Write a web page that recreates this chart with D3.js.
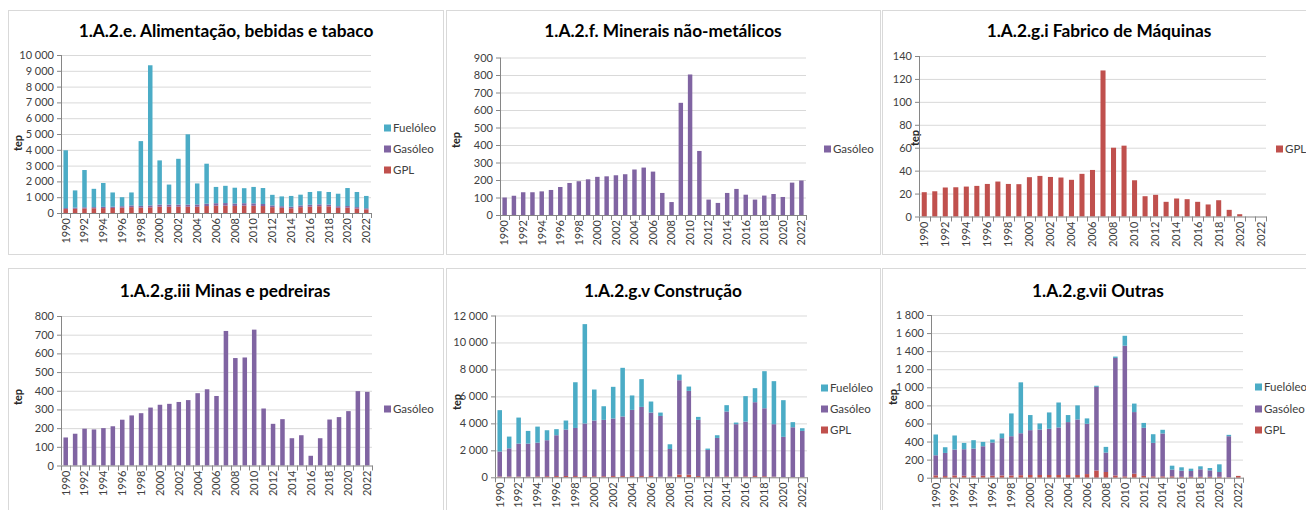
<!DOCTYPE html>
<html>
<head>
<meta charset="utf-8">
<script src="https://cdn.jsdelivr.net/npm/d3@7"></script>
<style>
  body { margin: 0; background: #fff; }
  svg { display: block; font-family: Lato, "Open Sans", sans-serif; }
  .title { font-size: 17.3px; font-weight: bold; fill: #000; }
  .tick text { font-size: 11px; fill: #404040; font-family: Lato, sans-serif; }
  .legend-label { font-size: 11.5px; fill: #404040; }
  .axis-title { font-size: 11px; font-weight: bold; fill: #262626; }
</style>
</head>
<body>
<svg id="chart"></svg>
<script>
// categories
const years = [1990, 1991, 1992, 1993, 1994, 1995, 1996, 1997, 1998, 1999, 2000, 2001,
  2002, 2003, 2004, 2005, 2006, 2007, 2008, 2009, 2010, 2011, 2012, 2013, 2014, 2015,
  2016, 2017, 2018, 2019, 2020, 2021, 2022];
const yearTickLabels = [1990, 1992, 1994, 1996, 1998, 2000, 2002, 2004, 2006, 2008,
  2010, 2012, 2014, 2016, 2018, 2020, 2022];

// 1.A.2.e. Alimentação, bebidas e tabaco (tep)
const alimGpl = [250, 270, 290, 300, 310, 320, 340, 370, 340, 360, 400, 400, 400, 400, 400, 440,
  470, 470, 450, 470, 460, 440, 370, 330, 300, 370, 400, 430, 420, 330, 340, 280, 230];
const alimGas = [60, 70, 70, 70, 80, 80, 90, 110, 110, 120, 130, 130, 130, 130, 140, 150,
  150, 160, 150, 150, 150, 130, 110, 100, 100, 110, 120, 120, 110, 100, 100, 90, 70];
const alimFuel = [3660, 1090, 2360, 1160, 1510, 900, 570, 820, 4100, 8870, 2800, 1270, 2900,
  4450, 1330, 2530, 1030, 1090, 1000, 950, 1040, 1010, 670, 620, 680, 680, 810, 830, 800,
  790, 1140, 960, 780];

// 1.A.2.f. Minerais não-metálicos
const mineraisGas = [100, 110, 130, 130, 135, 143, 160, 183, 193, 204, 218, 221, 227, 233, 260,
  271, 248, 126, 74, 641, 803, 366, 88, 69, 126, 149, 116, 88, 111, 120, 103, 185, 197];

// 1.A.2.g.i Fabrico de Máquinas
const maquinasGpl = [21.2, 22, 25.3, 25.5, 26.1, 26.7, 28.4, 30.5, 28.4, 28.2, 34.3, 35.4, 34.5,
  34, 32, 37.2, 40.6, 127.4, 60, 61.8, 31.6, 17.7, 18.9, 12.8, 15.7, 15.1, 12.8, 10.5, 14.2,
  5.8, 2, 0, 0];

// 1.A.2.g.iii Minas e pedreiras
const minasGas = [150, 170, 197, 193, 200, 210, 245, 268, 280, 310, 325, 330, 340, 350, 387, 408,
  372, 720, 575, 578, 727, 305, 223, 248, 146, 162, 52, 146, 246, 259, 291, 398, 394];

// 1.A.2.g.v Construção
const construcaoGpl = [60, 60, 60, 60, 70, 80, 90, 100, 90, 90, 80, 80, 90, 90, 90, 90, 90, 40,
  60, 200, 190, 90, 60, 60, 70, 60, 70, 90, 80, 50, 20, 20, 20];
const construcaoGas = [1850, 2090, 2440, 2440, 2500, 2670, 3030, 3440, 3570, 3900, 4130, 4180,
  4270, 4420, 4910, 5130, 4710, 4510, 2040, 7000, 6220, 4170, 1970, 2860, 4810, 3880, 4060,
  5480, 5040, 3890, 2980, 3690, 3420];
const construcaoFuel = [3070, 870, 1930, 940, 1190, 740, 450, 670, 3390, 7370, 2300, 1010, 2350,
  3610, 1070, 2060, 820, 250, 350, 420, 320, 220, 100, 200, 470, 120, 1890, 1040, 2750, 3190,
  2720, 380, 200];

// 1.A.2.g.vii Outras
const outrasGpl = [26, 18, 25, 22, 22, 22, 22, 25, 25, 28, 30, 30, 30, 30, 30, 30, 40, 80, 63,
  25, 15, 44, 20, 15, 15, 15, 10, 10, 10, 10, 10, 5, 20];
const outrasGas = [222, 256, 286, 293, 300, 326, 367, 412, 434, 464, 496, 503, 511, 526, 585, 614,
  556, 925, 215, 1300, 1445, 682, 532, 370, 474, 74, 68, 64, 83, 71, 53, 454, 0];
const outrasFuel = [230, 63, 156, 70, 93, 48, 33, 52, 252, 563, 167, 67, 181, 276, 78, 156, 60,
  12, 63, 15, 110, 94, 54, 96, 41, 44, 37, 26, 33, 26, 85, 15, 0];

const fuelColors = { "Fuelóleo": "#4bacc6", "Gasóleo": "#8064a2", "GPL": "#c0504d" };

const ptLocale = d3.formatLocale({ decimal: ",", thousands: "\u00a0", grouping: [3], currency: ["", " €"] });
const fmt = ptLocale.format(",d");

const svg = d3.select("#chart").attr("width", 1306).attr("height", 510);

class BarPanel {

  constructor(_config) {
    this.config = _config;
    this.initVis();
  }

  initVis() {
    let vis = this;
    const c = vis.config;

    // panel frame
    svg.append("rect")
        .attr("x", c.box[0] + 0.5)
        .attr("y", c.box[1] + 0.5)
        .attr("width", c.box[2])
        .attr("height", c.box[3])
        .attr("fill", "#fff")
        .attr("stroke", "#d9d9d9");

    vis.g = svg.append("g");

    vis.g.append("text")
        .attr("class", "title")
        .attr("x", c.titleX)
        .attr("y", c.titleY)
        .attr("text-anchor", "middle")
        .text(c.title);

    vis.g.append("text")
        .attr("class", "axis-title")
        .attr("transform", `translate(${c.tep[0]},${c.tep[1]}) rotate(-90)`)
        .attr("text-anchor", "middle")
        .attr("dy", "0.35em")
        .text("tep");

    vis.innerWidth = c.plot.right - c.plot.left;
    vis.innerHeight = c.plot.bottom - c.plot.top;
    vis.chart = vis.g.append("g")
        .attr("transform", `translate(${c.plot.left},${c.plot.top})`);

    vis.updateVis();
  }

  updateVis() {
    let vis = this;
    const c = vis.config;

    vis.rows = years.map((yr, i) => {
      const row = { year: yr };
      c.series.forEach(s => row[s.name] = s.values[i]);
      return row;
    });

    vis.xScale = d3.scaleBand()
        .domain(years)
        .range([0, vis.innerWidth])
        .paddingInner(0.52)
        .paddingOuter(0.26);
    vis.yScale = d3.scaleLinear()
        .domain([0, c.yMax])
        .range([vis.innerHeight, 0]);

    const ticks = d3.range(0, c.yMax + c.yStep / 2, c.yStep);

    // gridlines
    const grid = vis.chart.append("g")
        .call(d3.axisLeft(vis.yScale).tickValues(ticks.slice(1)).tickSize(-vis.innerWidth).tickFormat(""));
    grid.select(".domain").remove();
    grid.selectAll("line").attr("stroke", "#d9d9d9");

    // y axis
    const yAxis = vis.chart.append("g")
        .call(d3.axisLeft(vis.yScale).tickValues(ticks).tickSize(4).tickPadding(3).tickFormat(fmt));
    yAxis.select(".domain").attr("stroke", "#868686").attr("d", `M0.5,0V${vis.innerHeight}`);
    yAxis.selectAll("line").attr("stroke", "#868686");

    vis.renderVis();

    // x axis
    const xAxis = vis.chart.append("g")
        .attr("transform", `translate(0,${vis.innerHeight})`)
        .call(d3.axisBottom(vis.xScale).tickValues(yearTickLabels).tickSize(0));
    xAxis.select(".domain").attr("stroke", "#868686");
    xAxis.selectAll("text")
        .attr("transform", "rotate(-90)")
        .attr("x", -5)
        .attr("y", 0)
        .attr("dy", "0.35em")
        .style("text-anchor", "end");

    // category boundary ticks
    const step = vis.xScale.step();
    xAxis.selectAll(".cat-tick")
        .data(d3.range(years.length + 1))
        .join("line")
        .attr("class", "cat-tick")
        .attr("x1", i => Math.round(i * step) + 0.5)
        .attr("x2", i => Math.round(i * step) + 0.5)
        .attr("y1", 0)
        .attr("y2", 5)
        .attr("stroke", "#868686");

    // legend
    const legendOrder = c.series.slice().reverse();
    const leg = vis.g.selectAll(".legend-item")
        .data(legendOrder)
        .join("g")
        .attr("class", "legend-item")
        .attr("transform", (d, i) => `translate(${c.legendX},${c.legendY[i]})`);
    leg.append("rect")
        .attr("x", 0)
        .attr("y", -3.5)
        .attr("width", 7)
        .attr("height", 7)
        .attr("fill", d => fuelColors[d.name]);
    leg.append("text")
        .attr("class", "legend-label")
        .attr("x", 9)
        .attr("dy", "0.35em")
        .text(d => d.name);
  }

  renderVis() {
    let vis = this;
    const keys = vis.config.series.map(s => s.name);
    const stacked = d3.stack().keys(keys)(vis.rows);

    vis.chart.selectAll(".layer")
        .data(stacked)
        .join("g")
        .attr("class", "layer")
        .attr("fill", d => fuelColors[d.key])
        .selectAll("rect")
        .data(d => d)
        .join("rect")
        .attr("x", d => vis.xScale(d.data.year))
        .attr("width", vis.xScale.bandwidth())
        .attr("y", d => vis.yScale(d[1]))
        .attr("height", d => vis.yScale(d[0]) - vis.yScale(d[1]));
  }
}

new BarPanel({
  box: [8, 10, 435, 244],
  plot: { left: 61, right: 371, top: 55, bottom: 213 },
  yMax: 10000, yStep: 1000,
  title: "1.A.2.e. Alimentação, bebidas e tabaco", titleX: 226, titleY: 37,
  tep: [18, 143],
  legendX: 384, legendY: [128, 149, 170],
  series: [
    { name: "GPL", values: alimGpl },
    { name: "Gasóleo", values: alimGas },
    { name: "Fuelóleo", values: alimFuel }
  ]
});

new BarPanel({
  box: [446, 10, 434, 244],
  plot: { left: 500, right: 806, top: 57.5, bottom: 215 },
  yMax: 900, yStep: 100,
  title: "1.A.2.f. Minerais não-metálicos", titleX: 663, titleY: 37,
  tep: [456, 140],
  legendX: 824, legendY: [149],
  series: [{ name: "Gasóleo", values: mineraisGas }]
});

new BarPanel({
  box: [882, 10, 430, 244],
  plot: { left: 919, right: 1266, top: 56, bottom: 216.5 },
  yMax: 140, yStep: 20,
  title: "1.A.2.g.i Fabrico de Máquinas", titleX: 1099, titleY: 37,
  tep: [915, 138],
  legendX: 1276, legendY: [149],
  series: [{ name: "GPL", values: maquinasGpl }]
});

new BarPanel({
  box: [8, 268, 435, 250],
  plot: { left: 61, right: 372, top: 316, bottom: 465.5 },
  yMax: 800, yStep: 100,
  title: "1.A.2.g.iii Minas e pedreiras", titleX: 225, titleY: 297,
  tep: [18, 397],
  legendX: 384, legendY: [409],
  series: [{ name: "Gasóleo", values: minasGas }]
});

new BarPanel({
  box: [446, 268, 434, 250],
  plot: { left: 495, right: 807, top: 315.5, bottom: 477.3 },
  yMax: 12000, yStep: 2000,
  title: "1.A.2.g.v Construção", titleX: 663, titleY: 297,
  tep: [457, 402],
  legendX: 821, legendY: [388, 409, 430],
  series: [
    { name: "GPL", values: construcaoGpl },
    { name: "Gasóleo", values: construcaoGas },
    { name: "Fuelóleo", values: construcaoFuel }
  ]
});

new BarPanel({
  box: [882, 268, 430, 250],
  plot: { left: 931, right: 1243, top: 315, bottom: 477.7 },
  yMax: 1800, yStep: 200,
  title: "1.A.2.g.vii Outras", titleX: 1098, titleY: 297,
  tep: [893, 397],
  legendX: 1255, legendY: [387, 409, 430],
  series: [
    { name: "GPL", values: outrasGpl },
    { name: "Gasóleo", values: outrasGas },
    { name: "Fuelóleo", values: outrasFuel }
  ]
});
</script>
</body>
</html>
